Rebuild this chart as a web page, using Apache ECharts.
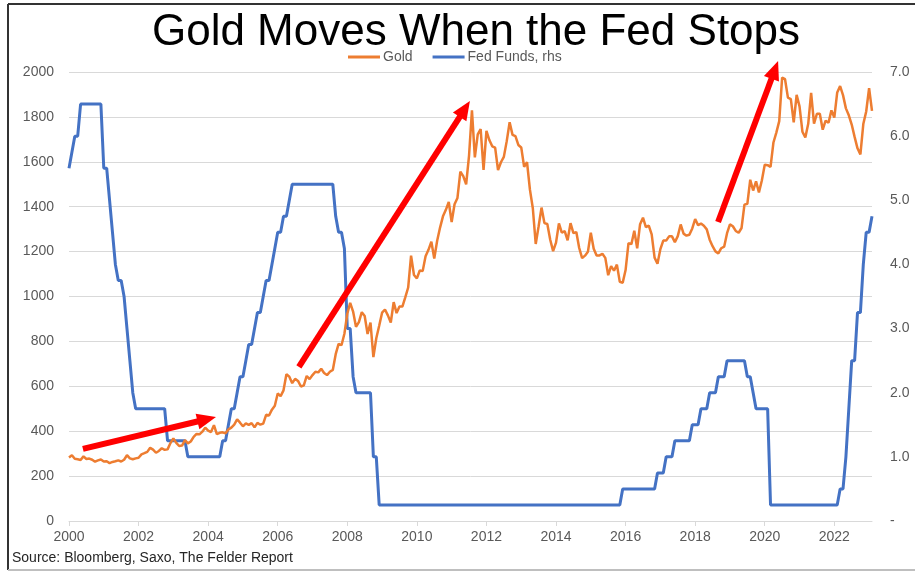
<!DOCTYPE html>
<html>
<head>
<meta charset="utf-8">
<title>Gold Moves When the Fed Stops</title>
<script src="https://cdn.jsdelivr.net/npm/echarts@6/dist/echarts.min.js"></script>
<style>
  html, body { margin: 0; padding: 0; background: #ffffff; }
  #chart { width: 915px; height: 573px; }
</style>
</head>
<body>
<div id="chart"></div>
<script>
// Monthly observations, Jan 2000 .. Feb 2023 (end of month)
const START_YEAR = 2000;
const MONTH_COUNT = 278;

// Gold, USD per ounce
const gold = [
  283, 293, 277, 275, 272, 288, 276, 278, 273, 264, 270, 274,          // 2000
  265, 266, 258, 263, 266, 270, 265, 273, 293, 279, 275, 279,          // 2001
  282, 297, 302, 308, 326, 318, 304, 312, 324, 317, 319, 347,          // 2002
  368, 348, 334, 336, 361, 346, 354, 375, 388, 386, 398, 416,          // 2003
  403, 396, 427, 387, 393, 395, 391, 408, 416, 429, 453, 438,          // 2004
  422, 435, 428, 436, 417, 437, 429, 434, 473, 470, 496, 513,          // 2005
  568, 556, 582, 654, 643, 614, 633, 624, 599, 604, 646, 632,          // 2006
  650, 665, 662, 678, 659, 650, 665, 673, 743, 789, 783, 834,          // 2007
  923, 972, 933, 865, 886, 930, 913, 833, 884, 730, 814, 870,          // 2008
  928, 942, 916, 884, 975, 926, 955, 955, 996, 1040, 1182, 1096,       // 2009
  1081, 1116, 1113, 1179, 1208, 1244, 1169, 1248, 1307, 1357, 1386, 1421, // 2010
  1332, 1411, 1439, 1556, 1536, 1500, 1628, 1829, 1620, 1722, 1746, 1564, // 2011
  1738, 1697, 1669, 1663, 1563, 1598, 1622, 1692, 1776, 1720, 1714, 1675, // 2012
  1664, 1578, 1598, 1476, 1393, 1234, 1313, 1396, 1327, 1323, 1253, 1202, // 2013
  1240, 1326, 1284, 1291, 1250, 1327, 1282, 1287, 1216, 1171, 1182, 1199, // 2014
  1284, 1213, 1183, 1183, 1190, 1172, 1095, 1135, 1115, 1142, 1065, 1061, // 2015
  1118, 1238, 1233, 1293, 1215, 1322, 1351, 1309, 1316, 1277, 1173, 1146, // 2016
  1211, 1249, 1249, 1268, 1268, 1242, 1269, 1321, 1280, 1271, 1275, 1303, // 2017
  1345, 1318, 1325, 1315, 1299, 1253, 1224, 1201, 1192, 1215, 1222, 1282, // 2018
  1321, 1313, 1292, 1284, 1305, 1409, 1413, 1520, 1472, 1513, 1464, 1517, // 2019
  1587, 1585, 1577, 1686, 1730, 1781, 1975, 1968, 1886, 1879, 1776, 1898, // 2020
  1847, 1734, 1708, 1769, 1907, 1770, 1814, 1814, 1743, 1783, 1774, 1829, // 2021
  1797, 1909, 1937, 1897, 1838, 1807, 1766, 1711, 1660, 1633, 1768, 1824, // 2022
  1928, 1827                                                           // 2023
];

// Fed funds target rate (upper bound), %
const fedFunds = [
  5.5, 5.75, 6, 6, 6.5, 6.5, 6.5, 6.5, 6.5, 6.5, 6.5, 6.5,             // 2000
  5.5, 5.5, 5, 4.5, 4, 3.75, 3.75, 3.5, 3, 2.5, 2, 1.75,               // 2001
  1.75, 1.75, 1.75, 1.75, 1.75, 1.75, 1.75, 1.75, 1.75, 1.75, 1.25, 1.25, // 2002
  1.25, 1.25, 1.25, 1.25, 1.25, 1, 1, 1, 1, 1, 1, 1,                   // 2003
  1, 1, 1, 1, 1, 1.25, 1.25, 1.5, 1.75, 1.75, 2, 2.25,                 // 2004
  2.25, 2.5, 2.75, 2.75, 3, 3.25, 3.25, 3.5, 3.75, 3.75, 4, 4.25,      // 2005
  4.5, 4.5, 4.75, 4.75, 5, 5.25, 5.25, 5.25, 5.25, 5.25, 5.25, 5.25,   // 2006
  5.25, 5.25, 5.25, 5.25, 5.25, 5.25, 5.25, 5.25, 4.75, 4.5, 4.5, 4.25, // 2007
  3, 3, 2.25, 2, 2, 2, 2, 2, 2, 1, 1, 0.25,                            // 2008
  0.25, 0.25, 0.25, 0.25, 0.25, 0.25, 0.25, 0.25, 0.25, 0.25, 0.25, 0.25, // 2009
  0.25, 0.25, 0.25, 0.25, 0.25, 0.25, 0.25, 0.25, 0.25, 0.25, 0.25, 0.25, // 2010
  0.25, 0.25, 0.25, 0.25, 0.25, 0.25, 0.25, 0.25, 0.25, 0.25, 0.25, 0.25, // 2011
  0.25, 0.25, 0.25, 0.25, 0.25, 0.25, 0.25, 0.25, 0.25, 0.25, 0.25, 0.25, // 2012
  0.25, 0.25, 0.25, 0.25, 0.25, 0.25, 0.25, 0.25, 0.25, 0.25, 0.25, 0.25, // 2013
  0.25, 0.25, 0.25, 0.25, 0.25, 0.25, 0.25, 0.25, 0.25, 0.25, 0.25, 0.25, // 2014
  0.25, 0.25, 0.25, 0.25, 0.25, 0.25, 0.25, 0.25, 0.25, 0.25, 0.25, 0.5,  // 2015
  0.5, 0.5, 0.5, 0.5, 0.5, 0.5, 0.5, 0.5, 0.5, 0.5, 0.5, 0.75,         // 2016
  0.75, 0.75, 1, 1, 1, 1.25, 1.25, 1.25, 1.25, 1.25, 1.25, 1.5,        // 2017
  1.5, 1.5, 1.75, 1.75, 1.75, 2, 2, 2, 2.25, 2.25, 2.25, 2.5,          // 2018
  2.5, 2.5, 2.5, 2.5, 2.5, 2.5, 2.25, 2.25, 2, 1.75, 1.75, 1.75,       // 2019
  1.75, 1.75, 0.25, 0.25, 0.25, 0.25, 0.25, 0.25, 0.25, 0.25, 0.25, 0.25, // 2020
  0.25, 0.25, 0.25, 0.25, 0.25, 0.25, 0.25, 0.25, 0.25, 0.25, 0.25, 0.25, // 2021
  0.25, 0.25, 0.5, 0.5, 1, 1.75, 2.5, 2.5, 3.25, 3.25, 4, 4.5,         // 2022
  4.5, 4.75                                                            // 2023
];

// Month labels "YYYY-MM"
const months = [];
for (let i = 0; i < MONTH_COUNT; i++) {
  const y = START_YEAR + Math.floor(i / 12);
  const m = (i % 12) + 1;
  months.push(y + '-' + (m < 10 ? '0' + m : m));
}

// Axis scales
const goldAxis = { min: 0, max: 2000, step: 200 };
const rateAxis = { min: 0, max: 7, step: 1 };

// Trend arrows in data units: [monthIndex, gold] for tail and tip
const trendArrows = [
  [[4.8, 321], [50.7, 463]],
  [[79.3, 686], [138.3, 1871]],
  [[223.9, 1332], [244.6, 2049]]
];

const FONT = "'Liberation Sans', Arial, Helvetica, sans-serif";
const LABEL_GREY = '#595959';
const GRID_GREY = '#d9d9d9';
const ARROW_RED = '#ff0000';

const chart = echarts.init(document.getElementById('chart'), null, { renderer: 'canvas' });

chart.setOption({
  backgroundColor: '#ffffff',
  animation: false,
  title: {
    text: 'Gold Moves When the Fed Stops',
    left: 476,
    textAlign: 'center',
    top: 11,
    padding: 0,
    textStyle: { fontFamily: FONT, fontSize: 44, fontWeight: 'normal', color: '#000000' }
  },
  legend: {
    left: 348,
    top: 50,
    padding: 0,
    itemWidth: 32,
    itemHeight: 3,
    itemGap: 20,
    icon: 'rect',
    textStyle: { fontFamily: FONT, fontSize: 14, color: LABEL_GREY, padding: [0, 0, 0, -2] },
    data: ['Gold', 'Fed Funds, rhs']
  },
  grid: { left: 69, right: 43, top: 72, bottom: 52, containLabel: false },
  xAxis: {
    type: 'category',
    data: months,
    boundaryGap: false,
    axisLine: { lineStyle: { color: GRID_GREY, width: 1 } },
    axisTick: {
      show: true,
      interval: function (i) { return i % 24 === 0; },
      length: 5,
      lineStyle: { color: GRID_GREY }
    },
    axisLabel: {
      interval: function (i) { return i % 24 === 0; },
      formatter: function (v) { return v.slice(0, 4); },
      fontFamily: FONT,
      fontSize: 14,
      color: LABEL_GREY,
      margin: 9
    },
    splitLine: { show: false }
  },
  yAxis: [
    {
      type: 'value',
      min: goldAxis.min,
      max: goldAxis.max,
      interval: goldAxis.step,
      position: 'left',
      axisLine: { show: false },
      axisTick: { show: false },
      axisLabel: {
        fontFamily: FONT, fontSize: 14, color: LABEL_GREY, margin: 15,
        formatter: function (v) { return String(v); }
      },
      splitLine: { show: true, lineStyle: { color: GRID_GREY, width: 1 } }
    },
    {
      type: 'value',
      min: rateAxis.min,
      max: rateAxis.max,
      interval: rateAxis.step,
      position: 'right',
      axisLine: { show: false },
      axisTick: { show: false },
      axisLabel: {
        fontFamily: FONT, fontSize: 14, color: LABEL_GREY, margin: 18,
        formatter: function (v) { return v === 0 ? '-' : v.toFixed(1); }
      },
      splitLine: { show: false }
    }
  ],
  series: [
    {
      name: 'Fed Funds, rhs',
      type: 'line',
      yAxisIndex: 1,
      data: fedFunds,
      symbol: 'none',
      color: '#4472C4',
      lineStyle: { color: '#4472C4', width: 3 },
      z: 2
    },
    {
      name: 'Gold',
      type: 'line',
      yAxisIndex: 0,
      data: gold,
      symbol: 'none',
      color: '#ED7D31',
      lineStyle: { color: '#ED7D31', width: 2.5 },
      z: 3
    }
  ],
  graphic: [
    {
      id: 'source',
      type: 'text',
      left: 12,
      top: 551,
      style: {
        text: 'Source: Bloomberg, Saxo, The Felder Report',
        font: '14px ' + FONT,
        fill: '#262626'
      }
    },
    // chart frame
    { id: 'frameTop', type: 'line', shape: { x1: 8, y1: 4, x2: 915, y2: 4 }, style: { stroke: '#333333', lineWidth: 2 } },
    { id: 'frameLeft', type: 'line', shape: { x1: 8, y1: 4, x2: 8, y2: 570 }, style: { stroke: '#333333', lineWidth: 2 } },
    { id: 'frameBottom', type: 'line', shape: { x1: 8, y1: 570, x2: 915, y2: 570 }, style: { stroke: '#bfbfbf', lineWidth: 2 } }
  ]
});

// Pixel position of a (fractional) month index and a gold value, via the chart's own axes
function toPixel(monthIdx, value) {
  const lo = Math.floor(monthIdx);
  const p0 = chart.convertToPixel({ xAxisIndex: 0, yAxisIndex: 0 }, [lo, value]);
  const p1 = chart.convertToPixel({ xAxisIndex: 0, yAxisIndex: 0 }, [lo + 1, value]);
  return [p0[0] + (p1[0] - p0[0]) * (monthIdx - lo), p0[1]];
}

// Thick red arrows: shaft plus triangular head
const HEAD_LEN = 19, HEAD_HALF = 8, SHAFT = 6;
const arrowGraphics = [];
trendArrows.forEach(function (a, k) {
  const t = toPixel(a[0][0], a[0][1]);
  const h = toPixel(a[1][0], a[1][1]);
  const dx = h[0] - t[0], dy = h[1] - t[1];
  const len = Math.sqrt(dx * dx + dy * dy);
  const ux = dx / len, uy = dy / len;
  const bx = h[0] - ux * HEAD_LEN, by = h[1] - uy * HEAD_LEN;
  arrowGraphics.push({
    id: 'arrowShaft' + k,
    type: 'line',
    z: 50,
    shape: { x1: t[0], y1: t[1], x2: bx + ux * 2, y2: by + uy * 2 },
    style: { stroke: ARROW_RED, lineWidth: SHAFT, lineCap: 'butt' }
  });
  arrowGraphics.push({
    id: 'arrowHead' + k,
    type: 'polygon',
    z: 50,
    shape: { points: [[h[0], h[1]], [bx - uy * HEAD_HALF, by + ux * HEAD_HALF], [bx + uy * HEAD_HALF, by - ux * HEAD_HALF]] },
    style: { fill: ARROW_RED }
  });
});
chart.setOption({ graphic: arrowGraphics });
</script>
</body>
</html>
